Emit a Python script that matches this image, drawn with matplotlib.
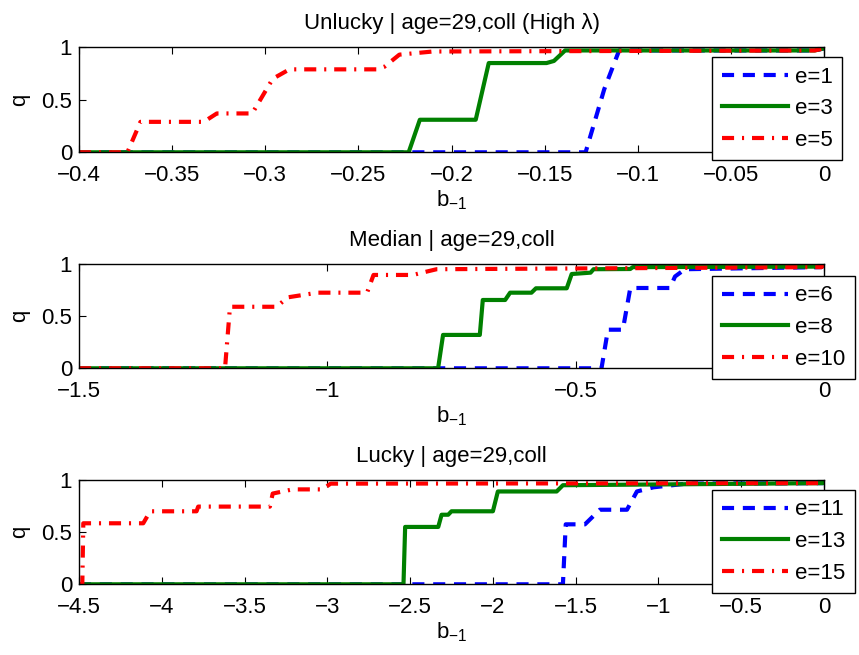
import matplotlib
matplotlib.use('Agg')
import matplotlib.pyplot as plt

plt.rcParams['font.family'] = ['Liberation Sans', 'DejaVu Sans']
plt.rcParams['mathtext.default'] = 'regular'
plt.rcParams['font.size'] = 16

# ---- data ----
titles = ['Unlucky | age=29,coll (High λ)', 'Median | age=29,coll', 'Lucky | age=29,coll']
labels = [['e=1', 'e=3', 'e=5'], ['e=6', 'e=8', 'e=10'], ['e=11', 'e=13', 'e=15']]
xlims = [(-0.4, 0), (-1.5, 0), (-4.5, 0)]
xticks = [[-0.4, -0.35, -0.3, -0.25, -0.2, -0.15, -0.1, -0.05, 0],
          [-1.5, -1, -0.5, 0],
          [-4.5, -4, -3.5, -3, -2.5, -2, -1.5, -1, -0.5, 0]]

# unlucky
e1_x = [-0.4, -0.128, -0.118, -0.11, -0.005, 0]
e1_y = [0, 0, 0.6, 0.97, 0.97, 0.99]
e3_x = [-0.4, -0.223, -0.217, -0.187, -0.18, -0.149, -0.145, -0.139, -0.005, 0]
e3_y = [0, 0, 0.31, 0.31, 0.85, 0.85, 0.87, 0.97, 0.97, 0.99]
e5_x = [-0.4, -0.374, -0.367, -0.333, -0.326, -0.307, -0.296, -0.287, -0.24, -0.236, -0.228, -0.21, -0.005, 0]
e5_y = [0, 0, 0.29, 0.29, 0.37, 0.37, 0.7, 0.79, 0.79, 0.815, 0.93, 0.96, 0.97, 0.99]

# median
e6_x = [-1.5, -0.448, -0.435, -0.405, -0.39, -0.31, -0.30, -0.28, -0.005, 0]
e6_y = [0, 0, 0.37, 0.37, 0.77, 0.77, 0.88, 0.95, 0.97, 0.99]
e8_x = [-1.5, -0.777, -0.767, -0.693, -0.687, -0.642, -0.632, -0.589, -0.58, -0.518, -0.508,
        -0.47, -0.464, -0.39, -0.385, -0.005, 0]
e8_y = [0, 0, 0.32, 0.32, 0.655, 0.655, 0.725, 0.725, 0.767, 0.767, 0.904, 0.917, 0.95,
        0.952, 0.97, 0.975, 0.99]
e10_x = [-1.5, -1.206, -1.196, -1.102, -1.08, -1.02, -0.92, -0.907, -0.827, -0.815, -0.78, -0.005, 0]
e10_y = [0, 0, 0.59, 0.59, 0.68, 0.725, 0.725, 0.895, 0.895, 0.91, 0.95, 0.97, 0.99]

# lucky
e11_x = [-4.5, -1.577, -1.56, -1.444, -1.354, -1.19, -1.13, -1.03, -0.83, -0.005, 0]
e11_y = [0, 0, 0.575, 0.575, 0.715, 0.715, 0.89, 0.93, 0.965, 0.97, 0.99]
e13_x = [-4.5, -2.54, -2.53, -2.33, -2.31, -2.27, -2.25, -2.0, -1.97, -1.615, -1.577, -0.005, 0]
e13_y = [0, 0, 0.55, 0.55, 0.667, 0.667, 0.70, 0.70, 0.89, 0.89, 0.95, 0.97, 0.99]
e15_x = [-4.5, -4.48, -4.474, -4.112, -4.07, -3.79, -3.78, -3.347, -3.33, -3.21, -3.03, -2.98, -0.005, 0]
e15_y = [0, 0, 0.585, 0.585, 0.70, 0.70, 0.745, 0.745, 0.87, 0.91, 0.91, 0.965, 0.97, 0.99]

series = [[(e1_x, e1_y), (e3_x, e3_y), (e5_x, e5_y)],
          [(e6_x, e6_y), (e8_x, e8_y), (e10_x, e10_y)],
          [(e11_x, e11_y), (e13_x, e13_y), (e15_x, e15_y)]]

colors = ['#0000ff', '#008000', '#ff0000']
dashes = [(2.9, 2.1), (), (2.9, 1.9, 0.5, 1.9)]

W, H = 859, 655
fig = plt.figure(figsize=(W / 100, H / 100), dpi=100)
# axes boxes in pixels: (top, bottom)
rows = [(47.3, 152.3), (264, 368.3), (480, 584.3)]
legend_top = [0.905, 0.885, 0.904]

for i in range(3):
    top, bot = rows[i]
    ax = fig.add_axes([79 / W, 1 - bot / H, 745 / W, (bot - top) / H])
    for j, (xs, ys) in enumerate(series[i]):
        ln, = ax.plot(xs, ys, color=colors[j], lw=3, label=labels[i][j])
        if dashes[j]:
            ln.set_dashes(dashes[j])
    ax.set_xlim(*xlims[i])
    ax.set_ylim(0, 1)
    ax.set_xticks(xticks[i])
    ax.set_xticklabels([('%g' % t).replace('-', '\u2212') for t in xticks[i]])
    ax.set_yticks([0, 0.5, 1])
    ax.set_yticklabels(['0', '0.5', '1'])
    ax.tick_params(direction='in', top=True, right=True, length=5, width=0.8, labelsize=16)
    ax.tick_params(axis='x', pad=9)
    ax.tick_params(axis='y', pad=5)
    for s in ax.spines.values():
        s.set_linewidth(1.0)
    ax.set_title(titles[i], fontsize=16, pad=13)
    ax.set_xlabel('b$_{\u22121}$', fontsize=16, labelpad=2)
    ax.set_ylabel('q', fontsize=16, labelpad=8)
    leg = ax.legend(loc='upper left', bbox_to_anchor=(0.85, legend_top[i]), fontsize=16,
                    handlelength=3.0, handletextpad=0.3, borderpad=0.42, labelspacing=0.48,
                    fancybox=False, framealpha=1, borderaxespad=0)
    leg.get_frame().set_edgecolor('black')
    leg.get_frame().set_linewidth(1.0)

fig.savefig('out.png', dpi=100)
